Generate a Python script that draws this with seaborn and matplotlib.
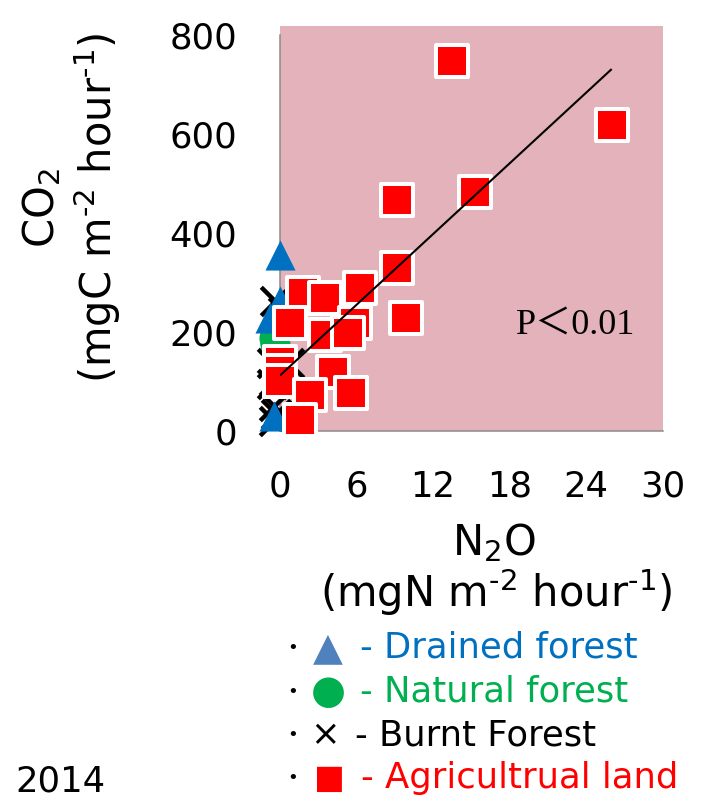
import numpy as np
import pandas as pd
import matplotlib
matplotlib.use("Agg")
import matplotlib.pyplot as plt
import seaborn as sns

# ---- data: N2O flux (mgN m-2 h-1) vs CO2 flux (mgC m-2 h-1), 2014 ----
agri_n2o = [13.5, 26.0, 15.3, 9.2, 9.15, 9.9, 6.26, 1.8, 3.5, 0.78,
            5.87, 3.5, 5.3, 4.15, 0.0, 0.0, 0.0, 2.35, 5.6, 1.56]
agri_co2 = [747, 618, 483, 467, 329, 228, 289, 279, 269, 218,
            218, 194, 198, 119, 139, 121, 101, 73, 77, 22]

drained_n2o = [0.0, 0.0, -0.8, -0.5]
drained_co2 = [356, 262, 228, 30]

natural_n2o = [-0.5, -0.4]
natural_co2 = [188, 175]

burnt_n2o = [-0.4, 0.2, -0.6, 0.7, -0.6, -0.5, -0.3, -0.5]
burnt_co2 = [262, 240, 137, 137, 95, 50, 35, 20]

x_ticks = [0, 6, 12, 18, 24, 30]
y_ticks = [0, 200, 400, 600, 800]

legend_labels = ["- Drained forest", "- Natural forest", "- Burnt Forest", "- Agricultrual land"]
legend_glyphs = ["\u25B2", "\u25CF", "\u00D7", "\u25A0"]

frames = []
for name, xs, ys in [("Burnt Forest", burnt_n2o, burnt_co2),
                     ("Natural forest", natural_n2o, natural_co2),
                     ("Drained forest", drained_n2o, drained_co2),
                     ("Agricultrual land", agri_n2o, agri_co2)]:
    frames.append(pd.DataFrame({"N2O": xs, "CO2": ys, "land": name}))
df = pd.concat(frames, ignore_index=True)

sns.set_style("white")
plt.rcParams["font.family"] = ["DejaVu Sans", "Noto Sans CJK JP"]
plt.rcParams["mathtext.fontset"] = "dejavusans"
plt.rcParams["text.color"] = "black"

W, H = 716, 802
fig = plt.figure(figsize=(W / 100, H / 100), dpi=100)

def fx(px):
    return px / W

def fy(py):
    return 1 - py / H

ax = fig.add_axes([fx(280), fy(431), (662.7 - 280) / W, (431 - 26) / H])
ax.set_facecolor("#E3B2BA")

FS = 25.5      # tick labels, key, year
TFS = 30       # axis titles
grey = "#8C8C8C"

styles = {
    "Burnt Forest": dict(marker="x", color="black", s=420, linewidth=3.2),
    "Natural forest": dict(marker="o", color="#00B050", s=470, edgecolor="#00B050", linewidth=0),
    "Drained forest": dict(marker="^", color="#0070C0", s=470, edgecolor="#0070C0", linewidth=0),
    "Agricultrual land": dict(marker="s", color="#FF0000", s=530, edgecolor="white", linewidth=2.9),
}
for land, st in styles.items():
    sub = df[df["land"] == land]
    sns.scatterplot(data=sub, x="N2O", y="CO2", ax=ax, legend=False,
                    clip_on=False, zorder=3, **st)

# least-squares trend for agricultural land
agri = df[df["land"] == "Agricultrual land"]
slope, intercept = np.polyfit(agri["N2O"], agri["CO2"], 1)
xs_fit = np.array([agri["N2O"].min(), agri["N2O"].max()])
ax.plot(xs_fit, intercept + slope * xs_fit, color="black", lw=1.5, zorder=4,
        solid_capstyle="butt")

ax.text(23.2, 214, "P\uFF1C0.01", ha="center", va="center", fontsize=FS + 0.5,
        family=["Liberation Serif", "Noto Sans CJK JP"], zorder=5)

ax.set_xlim(0, 30)
ax.set_ylim(0, 818.2)
ax.set_xticks(x_ticks)
ax.set_yticks(y_ticks)
ax.set_xticklabels([str(v) for v in x_ticks])
ax.set_yticklabels([str(v) for v in y_ticks])
ax.set_xlabel("")
ax.set_ylabel("")

for side in ["top", "right"]:
    ax.spines[side].set_visible(False)
for side in ["left", "bottom"]:
    ax.spines[side].set_color(grey)
    ax.spines[side].set_linewidth(1.1)
ax.spines["left"].set_bounds(0, 800)
ax.tick_params(axis="both", direction="in", length=9.4, width=1.1, color=grey,
               labelsize=FS, labelcolor="black")
ax.tick_params(axis="y", pad=31)
ax.tick_params(axis="x", pad=28)

# axis titles
fig.text(fx(42), fy(208), "CO$_2$", rotation=90, ha="center", va="center", fontsize=TFS)
fig.text(fx(97), fy(208), r"(mgC m$^{\text{-}2}$ hour$^{\text{-}1}$)", rotation=90,
         ha="center", va="center", fontsize=TFS)
fig.text(fx(494), fy(555), "N$_2$O", ha="center", va="baseline", fontsize=TFS)
fig.text(fx(496), fy(607), r"(mgN m$^{\text{-}2}$ hour$^{\text{-}1}$)", ha="center",
         va="baseline", fontsize=TFS)

# key below the plot
glyph_colors = ["#4F81BD", "#00B050", "black", "#FF0000"]
text_colors = ["#0070C0", "#00B050", "black", "#FF0000"]
glyph_sizes = [28, 29, FS, 23.5]
rows = [648, 692, 735, 778]
glyph_x = [328, 328, 325, 328]
text_x = [360, 360, 355, 361]
for i, label in enumerate(legend_labels):
    fig.text(fx(293), fy(rows[i]), "\u2022", ha="center", va="center", fontsize=13)
    fig.text(fx(glyph_x[i]), fy(rows[i]), legend_glyphs[i], ha="center", va="center",
             fontsize=glyph_sizes[i], color=glyph_colors[i])
    fig.text(fx(text_x[i]), fy(rows[i]), label, ha="left", va="center",
             fontsize=FS, color=text_colors[i])

fig.text(fx(60), fy(782), "2014", ha="center", va="center", fontsize=FS)

fig.savefig("out.png", dpi=100)
